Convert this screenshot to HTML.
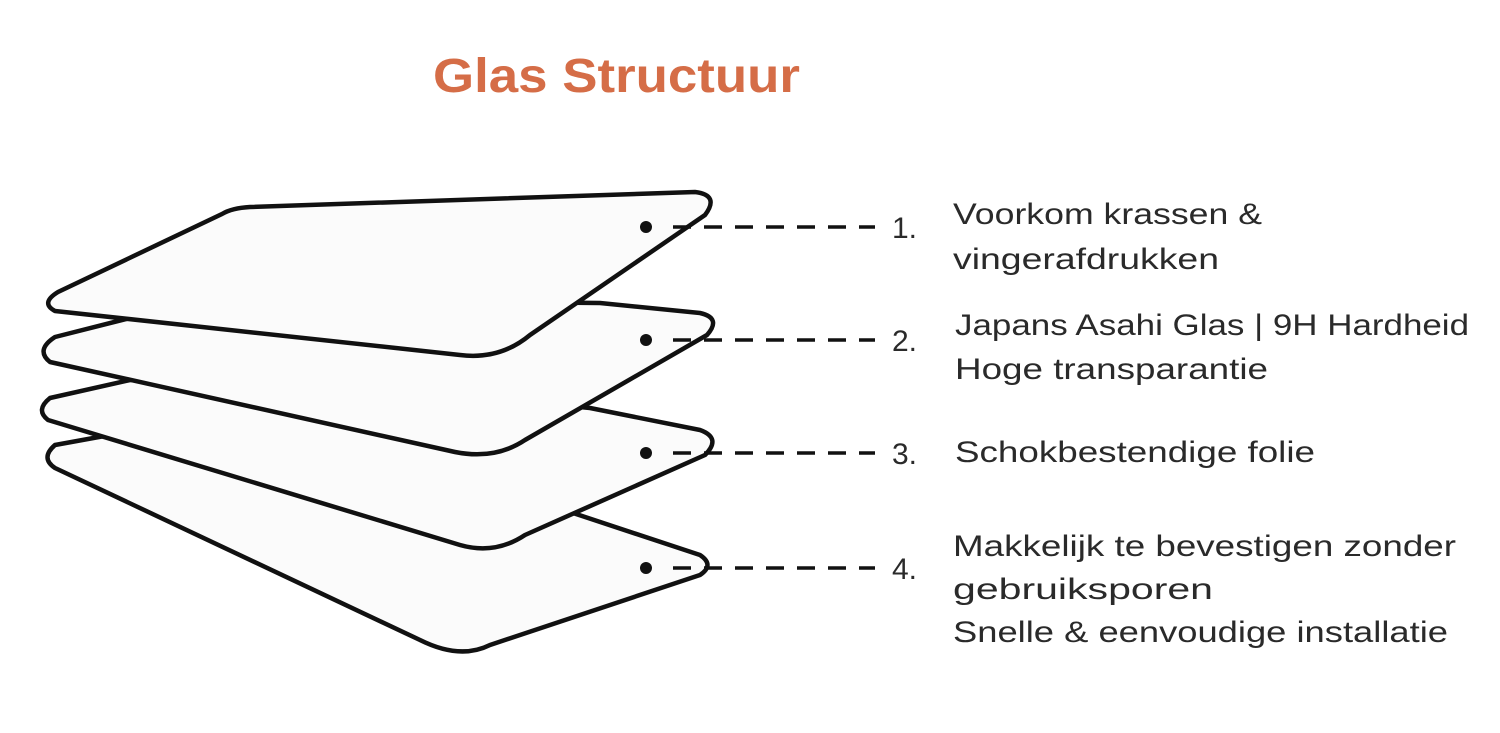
<!DOCTYPE html>
<html><head><meta charset="utf-8"><style>
html,body{margin:0;padding:0;background:#fff;}
svg{display:block}
text{font-family:"Liberation Sans",sans-serif;}
</style></head><body>
<svg width="1500" height="733" viewBox="0 0 1500 733" xmlns="http://www.w3.org/2000/svg">
<rect width="1500" height="733" fill="#fff"/>
<text x="433" y="92" font-size="48" font-weight="bold" fill="#d56d47" textLength="367" lengthAdjust="spacingAndGlyphs">Glas Structuur</text>
<g fill="#fbfbfb" stroke="#111" stroke-width="4.5" stroke-linejoin="round">
<path d="M55,445 Q40,458 55,468 L420,640 Q460,660 490,645 L700,575 Q715,565 700,555 L570,512 L300,430 L110,435 Z"/>
<path d="M50,398 Q35,410 48,420 L460,545 Q495,555 525,535 L705,455 Q722,438 700,430 L590,408 L300,380 L130,380 Z"/>
<path d="M55,337 Q35,350 50,362 L455,452 Q495,460 525,440 L707,335 Q722,318 700,313 L600,303 L300,300 L130,318 Z"/>
<path d="M58,292 Q40,303 55,311 L460,355 Q500,360 530,335 L705,215 Q720,195 695,192 L250,207 Q232,208 222,214 Z"/>
</g>
<g fill="#111">
<circle cx="646" cy="227" r="6"/><circle cx="646" cy="340" r="6"/><circle cx="646" cy="453" r="6"/><circle cx="646" cy="568" r="6"/>
</g>
<g stroke="#111" stroke-width="3.5" stroke-dasharray="18,13">
<line x1="673" y1="227" x2="875" y2="227"/>
<line x1="673" y1="340" x2="875" y2="340"/>
<line x1="673" y1="453" x2="875" y2="453"/>
<line x1="673" y1="568" x2="875" y2="568"/>
</g>
<g font-size="30" fill="#2a2a2a">
<text x="892" y="238">1.</text>
<text x="892" y="351">2.</text>
<text x="892" y="464">3.</text>
<text x="892" y="579">4.</text>
<text x="953" y="224" textLength="309" lengthAdjust="spacingAndGlyphs">Voorkom krassen &amp;</text>
<text x="953" y="269" textLength="266" lengthAdjust="spacingAndGlyphs">vingerafdrukken</text>
<text x="955" y="335" textLength="514" lengthAdjust="spacingAndGlyphs">Japans Asahi Glas | 9H Hardheid</text>
<text x="955" y="379" textLength="313" lengthAdjust="spacingAndGlyphs">Hoge transparantie</text>
<text x="955" y="462" textLength="360" lengthAdjust="spacingAndGlyphs">Schokbestendige folie</text>
<text x="953" y="556" textLength="503" lengthAdjust="spacingAndGlyphs">Makkelijk te bevestigen zonder</text>
<text x="953" y="599" textLength="260" lengthAdjust="spacingAndGlyphs">gebruiksporen</text>
<text x="953" y="642" textLength="495" lengthAdjust="spacingAndGlyphs">Snelle &amp; eenvoudige installatie</text>
</g>
</svg>
</body></html>
